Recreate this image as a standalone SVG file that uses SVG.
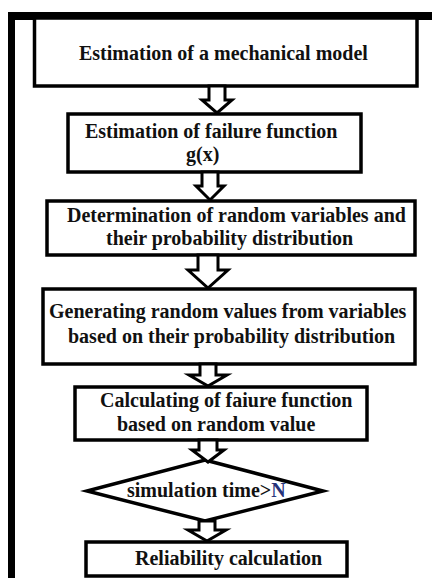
<svg xmlns="http://www.w3.org/2000/svg" width="432" height="578" viewBox="0 0 432 578">
<style>
.box{fill:#fff;stroke:#000;stroke-width:3.5}
.arr{fill:#fff;stroke:#000;stroke-width:3;stroke-linejoin:miter}
.t{font-family:"Liberation Serif","Times New Roman",serif;font-weight:bold;font-size:20px;fill:#111}
</style>
<rect x="0" y="0" width="432" height="578" fill="#fff"/>
<g id="frame">
<rect x="8" y="12" width="424" height="8" fill="#000"/>
<rect x="8" y="12" width="7" height="566" fill="#000"/>
</g>
<g id="n1">
<rect class="box" x="34.5" y="18" width="382.5" height="68"/>
<text class="t" x="79" y="60">Estimation of a mechanical model</text>
</g>
<g id="n2">
<rect class="box" x="68" y="114" width="293" height="58"/>
<text class="t" x="85" y="138">Estimation of failure function</text>
<text class="t" x="186" y="161">g(x)</text>
</g>
<g id="n3">
<rect class="box" x="47" y="201" width="368" height="54"/>
<text class="t" x="67" y="222">Determination of random variables and</text>
<text class="t" x="106" y="245">their probability distribution</text>
</g>
<g id="n4">
<rect class="box" x="43" y="289" width="372" height="75"/>
<text class="t" x="49" y="318">Generating random values from variables</text>
<text class="t" x="68" y="343">based on their probability distribution</text>
</g>
<g id="n5">
<rect class="box" x="75" y="387" width="292" height="53"/>
<text class="t" x="100" y="407">Calculating of faiure function</text>
<text class="t" x="117" y="431">based on random value</text>
</g>
<g id="n6">
<polygon class="box" points="205,460 323,491 205,521 87,491"/>
<text class="t" x="127" y="497">simulation time&gt;<tspan fill="#26337a">N</tspan></text>
</g>
<g id="n7">
<rect class="box" x="86" y="542" width="261" height="34"/>
<text class="t" x="135" y="565">Reliability calculation</text>
</g>
<g id="connectors">
<path class="arr" d="M209,86 V100 H202 L217,113 L232,100 H225 V86 Z"/>
<path class="arr" d="M202,172 V186 H196 L210,200 L224,186 H218 V172 Z"/>
<path class="arr" d="M198,255 V270 H188 L208,288 L228,270 H218 V255 Z"/>
<path class="arr" d="M200,364 V375 H189 L208,386 L227,375 H216 V364 Z"/>
<path class="arr" d="M199,440 V450 H192 L208,462 L224,450 H217 V440 Z"/>
<path class="arr" d="M199,521 V530 H188 L207,541 L226,530 H215 V521 Z"/>
</g>
</svg>
